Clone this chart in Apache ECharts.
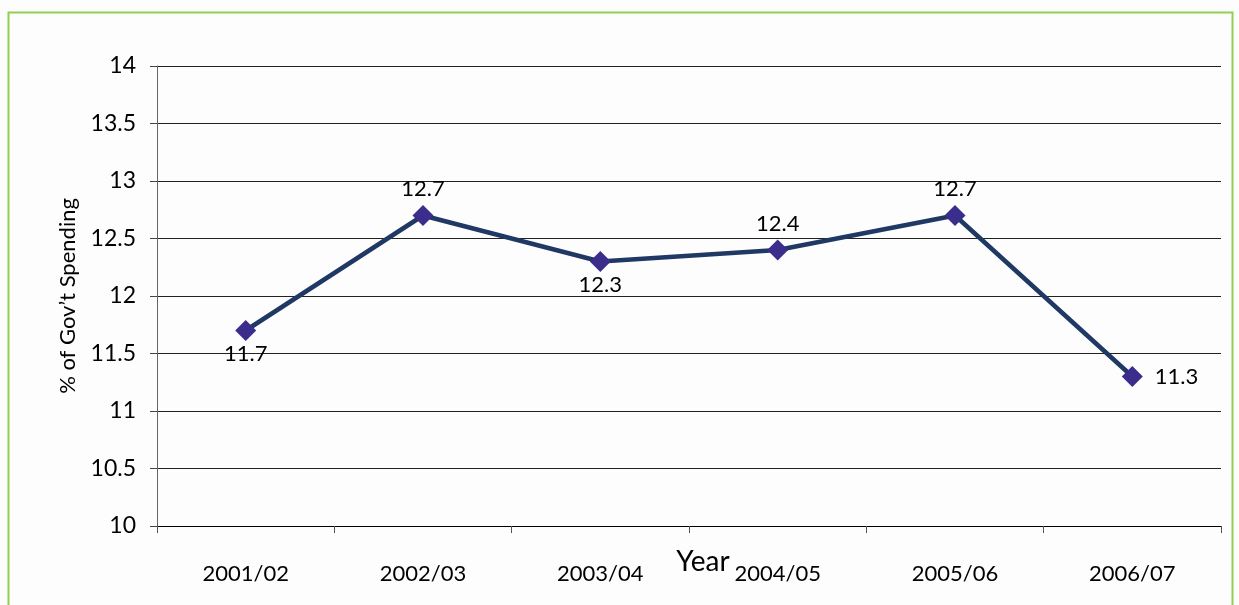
<!DOCTYPE html>
<html><head><meta charset="utf-8">
<script src="https://cdn.jsdelivr.net/npm/echarts@6/dist/echarts.min.js"></script>
<style>html,body{margin:0;padding:0;background:#fdfdfd;}#c{width:1239px;height:605px;}</style>
</head><body><div id="c"></div>
<script>
const categories = ['2001/02','2002/03','2003/04','2004/05','2005/06','2006/07'];
const values = [11.7, 12.7, 12.3, 12.4, 12.7, 11.3];
const labelPositions = ['bottom','top','bottom','top','top','right'];
const yTicks = [10, 10.5, 11, 11.5, 12, 12.5, 13, 13.5, 14];

const font = 'Lato, "Open Sans", sans-serif';
const distByPos = {top: 5, bottom: 2, right: 12};
const chart = echarts.init(document.getElementById('c'), null, {renderer:'canvas'});
chart.setOption({
  backgroundColor: '#fdfdfd',
  animation: false,
  graphic: [{
    type: 'rect', shape: {x: 8.5, y: 12.5, width: 1224, height: 600},
    style: {fill: 'none', stroke: '#92d050', lineWidth: 2}
  }],
  grid: {left: 157, right: 18, top: 66, bottom: 79, containLabel: false, outerBoundsMode: 'none'},
  xAxis: {
    type: 'category', data: categories, boundaryGap: true,
    axisLine: {lineStyle: {color: '#000', width: 1}},
    axisTick: {show: true, length: 7, lineStyle: {color: '#555'}},
    axisLabel: {color: '#000', fontSize: 22, fontFamily: font, margin: 37},
    name: 'Year', nameLocation: 'middle', nameGap: 22, nameMoveOverlap: false,
    nameTextStyle: {color: '#000', fontSize: 28, fontFamily: font, padding: [0, 0, 0, 28]}
  },
  yAxis: {
    type: 'value', min: yTicks[0], max: yTicks[yTicks.length-1], interval: 0.5,
    axisLine: {show: true, lineStyle: {color: '#666', width: 1}},
    axisTick: {show: true, length: 7, lineStyle: {color: '#444'}},
    splitLine: {show: true, lineStyle: {color: '#222', width: 1}},
    axisLabel: {color: '#000', fontSize: 23, fontFamily: font, margin: 21,
      formatter: v => String(v)},
    name: '% of Gov\u2019t Spending', nameLocation: 'middle', nameGap: 78, nameRotate: 90,
    nameMoveOverlap: false,
    nameTextStyle: {color: '#000', fontSize: 22, fontFamily: font}
  },
  series: [{
    type: 'line',
    data: values.map((v,i)=>({value: v, label: {position: labelPositions[i], distance: distByPos[labelPositions[i]]}})),
    symbol: 'diamond', symbolSize: 21,
    lineStyle: {color: '#203864', width: 4.5},
    itemStyle: {color: '#3a2d8c'},
    label: {show: true, color: '#000', fontSize: 22, fontFamily: font},
    z: 5
  }]
});
</script></body></html>
